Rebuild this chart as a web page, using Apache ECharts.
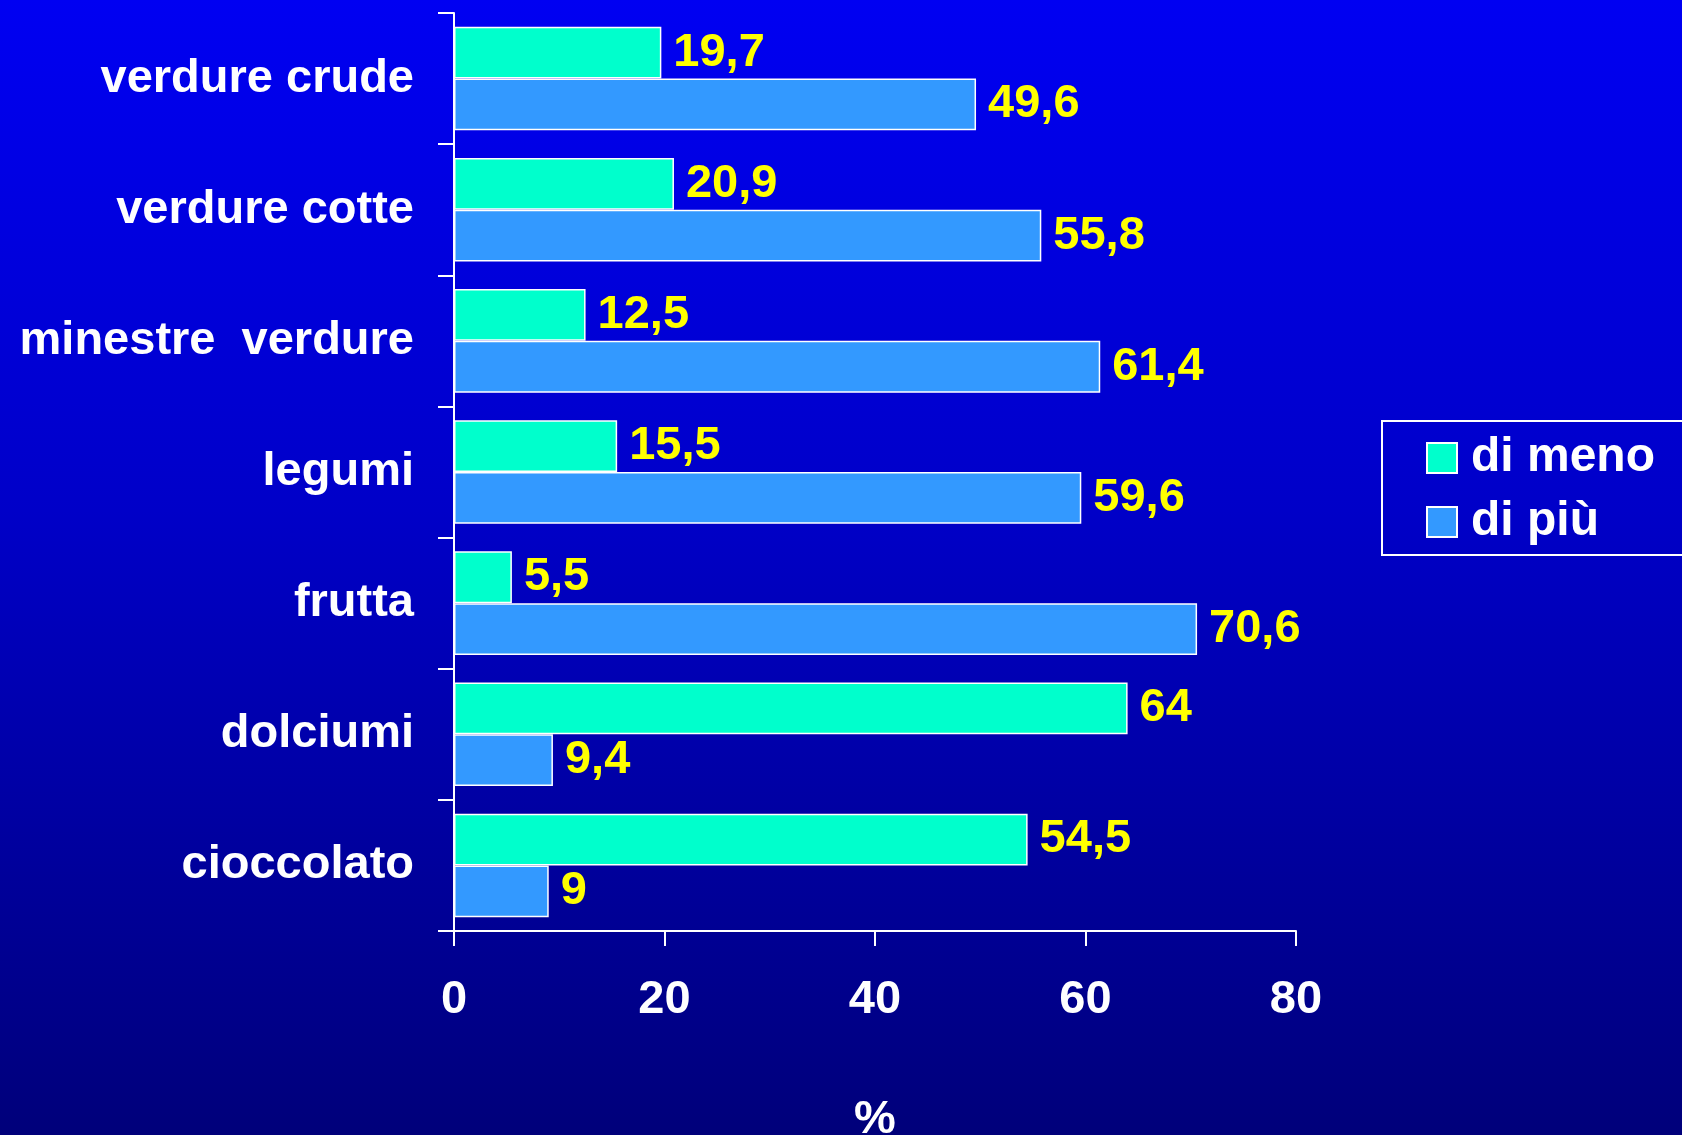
<!DOCTYPE html>
<html>
<head>
<meta charset="utf-8">
<script src="https://cdn.jsdelivr.net/npm/echarts@6/dist/echarts.min.js"></script>
<style>
html,body{margin:0;padding:0;width:1682px;height:1135px;overflow:hidden;
background:linear-gradient(to bottom,#0000f2 0%,#0000c8 45%,#00007a 100%);}
#c{width:1682px;height:1135px;}
</style>
</head>
<body>
<div id="c"></div>
<script>
const categories = ["verdure crude","verdure cotte","minestre  verdure","legumi","frutta","dolciumi","cioccolato"];
const diMeno = [19.7, 20.9, 12.5, 15.5, 5.5, 64, 54.5];
const diPiu = [49.6, 55.8, 61.4, 59.6, 70.6, 9.4, 9];
const xTicks = [0, 20, 40, 60, 80];
const seriesNames = ["di meno","di più"];

const FONT = '"Liberation Sans", Arial, sans-serif';
const chart = echarts.init(document.getElementById('c'), null, {renderer:'canvas'});
const labelCfg = {
  show:true, position:'right', distance:12, color:'#ffff00',
  fontFamily:FONT, fontWeight:'bold', fontSize:47,
  formatter: p => String(p.value).replace('.', ',')
};
chart.setOption({
  backgroundColor:'transparent',
  animation:false,
  grid:{left:454, right:386, top:13, bottom:204, outerBoundsMode:'none', containLabel:false},
  legend:{
    left:1382, top:421, orient:'vertical',
    padding:[13,100,9,44], itemGap:16,
    borderColor:'#ffffff', borderWidth:2,
    itemWidth:30, itemHeight:30, icon:'rect',
    textStyle:{color:'#fff', fontFamily:FONT, fontWeight:'bold', fontSize:48, padding:[0,0,0,9]},
    data:seriesNames
  },
  xAxis:{
    type:'value', min:xTicks[0], max:xTicks[xTicks.length-1], interval:20,
    axisLine:{show:true, lineStyle:{color:'#fff', width:2}},
    axisTick:{show:true, length:15, lineStyle:{color:'#fff', width:2}},
    splitLine:{show:false},
    axisLabel:{color:'#fff', fontFamily:FONT, fontWeight:'bold', fontSize:47, margin:46},
    name:'%', nameLocation:'middle', nameGap:166,
    nameTextStyle:{color:'#fff', fontFamily:FONT, fontWeight:'bold', fontSize:47}
  },
  yAxis:{
    type:'category', data:categories, inverse:true,
    axisLine:{show:true, lineStyle:{color:'#fff', width:2}},
    axisTick:{show:true, length:16, lineStyle:{color:'#fff', width:2}},
    axisLabel:{color:'#fff', fontFamily:FONT, fontWeight:'bold', fontSize:47, margin:40}
  },
  series:[
    {name:seriesNames[0], type:'bar', data:diMeno, barGap:'0%', barCategoryGap:'21%',
     itemStyle:{color:'#00ffcc', borderColor:'#ffffff', borderWidth:1.5}, label:labelCfg},
    {name:seriesNames[1], type:'bar', data:diPiu, barGap:'0%', barCategoryGap:'21%',
     itemStyle:{color:'#3399ff', borderColor:'#ffffff', borderWidth:1.5}, label:labelCfg}
  ]
});
</script>
</body>
</html>
